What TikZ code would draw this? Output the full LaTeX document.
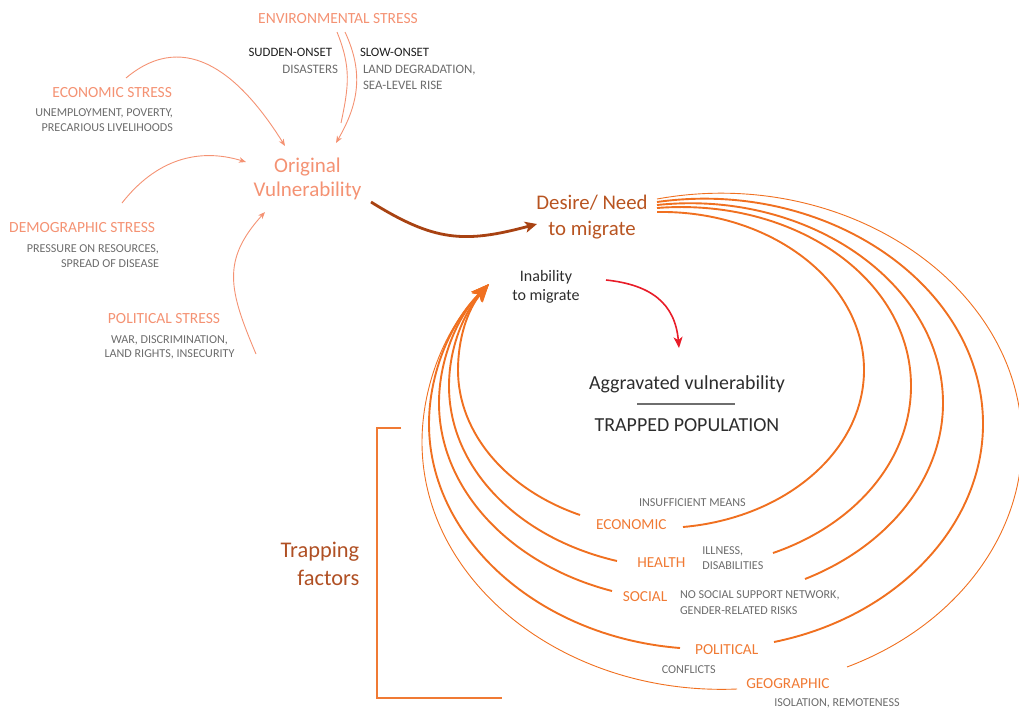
\documentclass[tikz,border=0pt]{standalone}
\usepackage{fontspec}
\setmainfont{Carlito}
\usetikzlibrary{arrows.meta}
\definecolor{salmon}{RGB}{244,146,115}
\definecolor{graytxt}{RGB}{108,108,108}
\definecolor{blacktxt}{RGB}{30,30,30}
\definecolor{darktxt}{RGB}{45,45,45}
\definecolor{browntxt}{RGB}{184,84,33}
\definecolor{trapbrown}{RGB}{176,80,36}
\definecolor{brownarr}{RGB}{168,66,18}
\definecolor{orarc}{RGB}{240,112,32}
\definecolor{orlbl}{RGB}{240,122,52}
\definecolor{redarr}{RGB}{232,28,40}
\definecolor{rulegray}{RGB}{110,110,110}
\newcommand\myfs[1]{\fontsize{#1pt}{#1pt}\selectfont}
\tikzset{
  every node/.style={inner sep=0pt,outer sep=0pt},
  stresst/.style={text=salmon,font=\myfs{15.5}},
  desc/.style={text=graytxt,font=\myfs{12.1}},
  envdesc/.style={text=graytxt,font=\myfs{12.9}},
  blk/.style={text=blacktxt,font=\myfs{12.8}},
  bigsalmon/.style={text=salmon,font=\myfs{21}},
  desiretxt/.style={text=browntxt,font=\myfs{20.8}},
  inabtxt/.style={text=darktxt,font=\myfs{16}},
  aggtxt/.style={text=darktxt,font=\myfs{19.9}},
  traptxt/.style={text=trapbrown,font=\myfs{22.4}},
  factorlbl/.style={text=orlbl,font=\myfs{15.3}},
  envline/.style={draw=salmon,line width=0.9pt},
  stressarr/.style={draw=salmon,line width=0.9pt,-{Stealth[length=7pt,width=5.5pt,inset=2pt]}},
  brownline/.style={draw=brownarr,line width=2.8pt,-{Stealth[length=12pt,width=11pt,inset=3pt]}},
  redline/.style={draw=redarr,line width=1.6pt,-{Stealth[length=11pt,width=9pt,inset=3pt]}},
  arcthick/.style={draw=orarc,line width=1.9pt},
  arcthin/.style={draw=orarc,line width=0.9pt},
  arctip/.style={-{Stealth[length=18pt,width=14pt,inset=4pt]}},
  bracketline/.style={draw=orlbl,line width=1.4pt},
  ruleline/.style={draw=rulegray,line width=1.2pt}
}
\begin{document}
\begin{tikzpicture}[x=1pt,y=-1pt]
\useasboundingbox (0,0) rectangle (1019,709);

% ---------- stress texts ----------
\node[stresst,anchor=base] (envT) at (338,23.3) {ENVIRONMENTAL STRESS};
\node[blk,anchor=base east] (sudden) at (332,56.7) {SUDDEN-ONSET};
\node[envdesc,anchor=base east] (disasters) at (338,74) {DISASTERS};
\node[blk,anchor=base west] (slow) at (360,56.7) {SLOW-ONSET};
\node[envdesc,anchor=base west] (land) at (363,74) {LAND DEGRADATION,};
\node[envdesc,anchor=base west] (sea) at (363,89) {SEA-LEVEL RISE};

\node[stresst,anchor=base east] (econT) at (172,97.3) {ECONOMIC STRESS};
\node[desc,anchor=base east] (econD1) at (173,116.7) {UNEMPLOYMENT, POVERTY,};
\node[desc,anchor=base east] (econD2) at (173,131.7) {PRECARIOUS LIVELIHOODS};

\node[stresst,anchor=base east] (demoT) at (155,232.7) {DEMOGRAPHIC STRESS};
\node[desc,anchor=base east] (demoD1) at (159,252) {PRESSURE ON RESOURCES,};
\node[desc,anchor=base east] (demoD2) at (159,267.7) {SPREAD OF DISEASE};

\node[stresst,anchor=base] (polT) at (164,323.3) {POLITICAL STRESS};
\node[desc,anchor=base] (polD1) at (169.5,343.3) {WAR, DISCRIMINATION,};
\node[desc,anchor=base] (polD2) at (169.5,357.5) {LAND RIGHTS, INSECURITY};

% ---------- central texts ----------
\node[bigsalmon,anchor=base] (orig1) at (307.5,172.3) {Original};
\node[bigsalmon,anchor=base] (orig2) at (307.5,196.7) {Vulnerability};
\node[desiretxt,anchor=base] (des1) at (592,209) {Desire/ Need};
\node[desiretxt,anchor=base] (des2) at (592,235.5) {to migrate};
\node[inabtxt,anchor=base] (inab1) at (546,281) {Inability};
\node[inabtxt,anchor=base] (inab2) at (546,300.7) {to migrate};
\node[aggtxt,anchor=base] (aggr) at (687,389.3) {Aggravated vulnerability};
\node[aggtxt,anchor=base] (trapped) at (687,431) {TRAPPED POPULATION};
\coordinate (rl) at (637,404);
\coordinate (rr) at (735,404);
\draw[ruleline] (rl) -- (rr);

\node[traptxt,anchor=base east] (trapF1) at (359.3,557) {Trapping};
\node[traptxt,anchor=base east] (trapF2) at (359.3,585) {factors};

% ---------- trapping factor labels ----------
\node[desc,anchor=base] (insuf) at (692.4,506) {INSUFFICIENT MEANS};
\node[factorlbl,anchor=base] (lEcon) at (631.3,529.3) {ECONOMIC};
\node[factorlbl,anchor=base] (lHealth) at (661.3,567) {HEALTH};
\node[desc,anchor=base west] (ill1) at (702.3,554.7) {ILLNESS,};
\node[desc,anchor=base west] (ill2) at (702.3,569.3) {DISABILITIES};
\node[factorlbl,anchor=base] (lSocial) at (645,601.3) {SOCIAL};
\node[desc,anchor=base west] (soc1) at (680,598.7) {NO SOCIAL SUPPORT NETWORK,};
\node[desc,anchor=base west] (soc2) at (680,614) {GENDER-RELATED RISKS};
\node[factorlbl,anchor=base] (lPol) at (726.7,654) {POLITICAL};
\node[desc,anchor=base] (confl) at (688.7,673.3) {CONFLICTS};
\node[factorlbl,anchor=base] (lGeo) at (787.9,688.7) {GEOGRAPHIC};
\node[desc,anchor=base west] (iso) at (774.3,706) {ISOLATION, REMOTENESS};

% ---------- stress arrows ----------
\coordinate (e1s) at (337,32);  \coordinate (e1e) at (341,123);
\coordinate (e2s) at (345,32);  \coordinate (e2e) at (336,143);
\draw[envline] (e1s) to[out=-68,in=78,out distance=38pt,in distance=38pt] (e1e);
\draw[stressarr] (e2s) to[out=-65,in=60,out distance=45pt,in distance=45pt] (e2e);
\coordinate (es) at (126,78);   \coordinate (ee) at (285,146);
\draw[stressarr] (es) to[out=40,in=122,out distance=80pt,in distance=80pt] (ee);
\coordinate (ds) at (122,203);  \coordinate (de) at (246,162);
\draw[stressarr] (ds) to[out=52,in=163,out distance=55pt,in distance=50pt] (de);
\coordinate (ps) at (256,354);  \coordinate (pe) at (265,212);
\draw[stressarr] (ps) to[out=113,in=228,out distance=70pt,in distance=65pt] (pe);

% ---------- main arrows ----------
\coordinate (b0) at (371,202);  \coordinate (b1) at (537,224);
\draw[brownline] (b0) to[out=-32,in=195,out distance=75pt,in distance=75pt] (b1);
\coordinate (r0) at (606,280);  \coordinate (r1) at (679,348);
\draw[redline] (r0) to[out=-6,in=95,out distance=45pt,in distance=45pt] (r1);

% ---------- trapping arcs ----------
\coordinate (tip) at (489,284);
% arc 1 economic
\coordinate (a1s) at (657,212); \coordinate (a1r) at (864,370); \coordinate (a1e) at (683,527);
\coordinate (a1l) at (580,515); \coordinate (a1m) at (458,370);
\draw[arcthick] (a1s) to[out=1,in=90,out distance=113.5pt,in distance=88.3pt] (a1r)
  to[out=-90,in=5,out distance=80.7pt,in distance=103.4pt] (a1e);
\draw[arcthick,arctip] (a1l) to[out=161,in=-90,out distance=78.1pt,in distance=62.8pt] (a1m)
  to[out=90,in=230,out distance=30.9pt,in distance=33.8pt] (tip);
% arc 2 health
\coordinate (a2s) at (657,208); \coordinate (a2r) at (911,386); \coordinate (a2e) at (773,553);
\coordinate (a2l) at (617,561); \coordinate (a2m) at (449,386);
\draw[arcthick] (a2s) to[out=4.5,in=90,out distance=136.4pt,in distance=108.3pt] (a2r)
  to[out=-90,in=19,out distance=72.6pt,in distance=88.9pt] (a2e);
\draw[arcthick,arctip] (a2l) to[out=167,in=-90,out distance=101.9pt,in distance=81.9pt] (a2m)
  to[out=90,in=229,out distance=36.7pt,in distance=40pt] (tip);
% arc 3 social
\coordinate (a3s) at (657,205); \coordinate (a3r) at (943,403); \coordinate (a3e) at (805,579);
\coordinate (a3l) at (612,591); \coordinate (a3m) at (439,403);
\draw[arcthick] (a3s) to[out=6,in=90,out distance=152.2pt,in distance=119.4pt] (a3r)
  to[out=-90,in=21.6,out distance=74.2pt,in distance=91pt] (a3e);
\draw[arcthick,arctip] (a3l) to[out=165.5,in=-90,out distance=106.6pt,in distance=85pt] (a3m)
  to[out=90,in=226,out distance=42.4pt,in distance=47pt] (tip);
% arc 4 political
\coordinate (a4s) at (657,202); \coordinate (a4r) at (983,424); \coordinate (a4e) at (774,642);
\coordinate (a4l) at (680,648); \coordinate (a4m) at (429,424);
\draw[arcthick] (a4s) to[out=8,in=90,out distance=171.6pt,in distance=138.3pt] (a4r)
  to[out=-90,in=11.5,out distance=101.6pt,in distance=125.4pt] (a4e);
\draw[arcthick,arctip] (a4l) to[out=175.5,in=-90,out distance=142.3pt,in distance=114.2pt] (a4m)
  to[out=90,in=225,out distance=50.1pt,in distance=55.2pt] (tip);
% arc 5 geographic
\coordinate (a5s) at (657,199); \coordinate (a5r) at (1022,442); \coordinate (a5e) at (847,667);
\coordinate (a5l) at (737,689); \coordinate (a5m) at (422,442);
\draw[arcthin] (a5s) to[out=10.3,in=90,out distance=190.4pt,in distance=157.3pt] (a5r)
  to[out=-90,in=20.6,out distance=96.2pt,in distance=113.9pt] (a5e);
\draw[arcthin,arctip] (a5l) to[out=182.4,in=-90,out distance=171.6pt,in distance=140.7pt] (a5m)
  to[out=90,in=225,out distance=56.4pt,in distance=61.6pt] (tip);

% ---------- bracket ----------
\coordinate (br1) at (401,428); \coordinate (br2) at (377,428);
\coordinate (br3) at (377,698); \coordinate (br4) at (502,698);
\draw[bracketline] (br1) -- (br2) -- (br3) -- (br4);
\end{tikzpicture}
\end{document}
